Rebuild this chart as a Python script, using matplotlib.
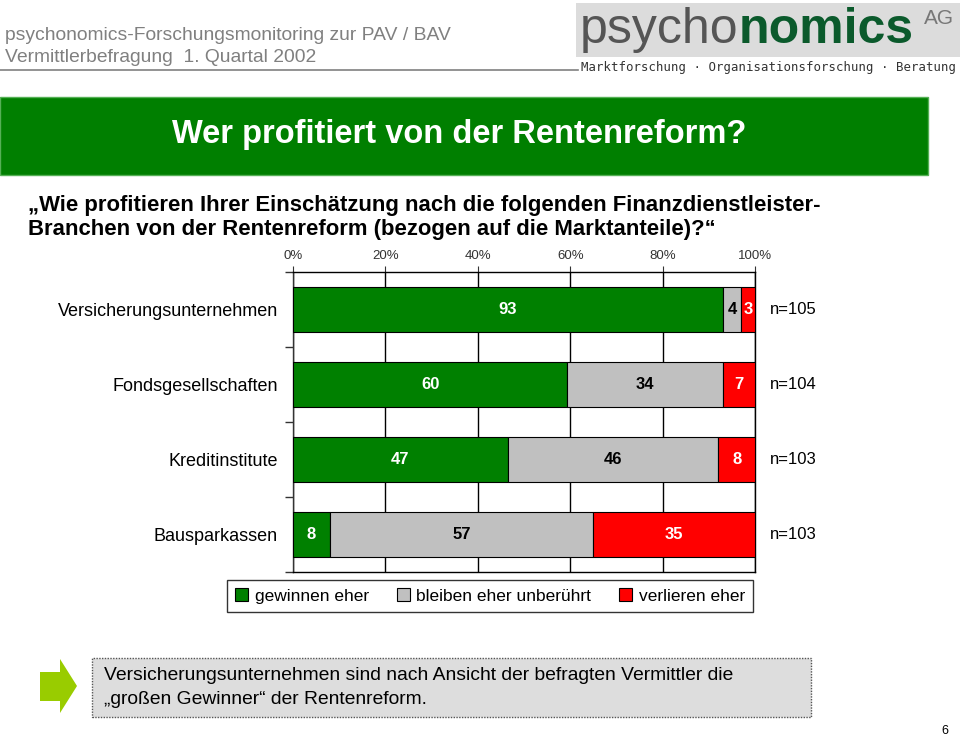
import matplotlib
matplotlib.use("Agg")
import matplotlib.pyplot as plt
from matplotlib.patches import Rectangle, Polygon
import numpy as np

# ---- data ----
categories = ["Versicherungsunternehmen", "Fondsgesellschaften", "Kreditinstitute", "Bausparkassen"]
gewinnen = [93, 60, 47, 8]
unberuehrt = [4, 34, 46, 57]
verlieren = [3, 7, 8, 35]
n_labels = ["n=105", "n=104", "n=103", "n=103"]
series_names = ["gewinnen eher", "bleiben eher unberührt", "verlieren eher"]
x_ticks = [0, 20, 40, 60, 80, 100]
x_ticklabels = ["0%", "20%", "40%", "60%", "80%", "100%"]

title = "Wer profitiert von der Rentenreform?"
question = ["\u201eWie profitieren Ihrer Einschätzung nach die folgenden Finanzdienstleister-",
            "Branchen von der Rentenreform (bezogen auf die Marktanteile)?\u201c"]
header = ["psychonomics-Forschungsmonitoring zur PAV / BAV",
          "Vermittlerbefragung  1. Quartal 2002"]
conclusion = ["Versicherungsunternehmen sind nach Ansicht der befragten Vermittler die",
              "\u201egroßen Gewinner\u201c der Rentenreform."]

colors = ["#008000", "#C0C0C0", "#FF0000"]
label_colors = ["white", "black", "white"]

plt.rcParams['font.family'] = ['Liberation Sans', 'DejaVu Sans']

W, H = 960, 738
fig = plt.figure(figsize=(W / 100, H / 100), dpi=100)
fig.patch.set_facecolor("white")


def fx(x):
    return x / W


def fy(y):
    return 1 - y / H


# ---- header ----
fig.text(fx(5), fy(35), header[0], fontsize=13.9, color="#808080", va="center", ha="left")
fig.text(fx(5), fy(58), header[1], fontsize=13.9, color="#808080", va="center", ha="left")
fig.add_artist(plt.Line2D([fx(0), fx(578)], [fy(70), fy(70)], color="#808080", lw=1.2))

# logo
fig.add_artist(Rectangle((fx(576), fy(57)), fx(960) - fx(576), fy(3) - fy(57),
                         facecolor="#DCDCDC", edgecolor="none"))
t_psy = fig.text(fx(580), fy(43), "psycho", fontsize=36, color="#555555",
                 va="baseline", ha="left")
fig.canvas.draw()
ext = t_psy.get_window_extent()
fig.text(ext.x1 / W, fy(43), "nomics", fontsize=36, fontweight="bold",
         color="#0B5A2C", va="baseline", ha="left")
fig.text(fx(924), fy(18), "AG", fontsize=15, color="#777777",
         va="center", ha="left")
fig.text(fx(581), fy(68), "Marktforschung · Organisationsforschung · Beratung",
         fontsize=8.9, family="DejaVu Sans Mono", color="#333333", va="center", ha="left")

# green title band
fig.add_artist(Rectangle((fx(0), fy(175)), fx(928), fy(97) - fy(175),
                         facecolor="#007F00", edgecolor="#55B055", lw=1))
fig.text(fx(459), fy(135), title, fontsize=23.5, fontweight="bold",
         color="white", ha="center", va="center")

# question
fig.text(fx(28), fy(205), question[0], fontsize=15.9, fontweight="bold",
         color="black", ha="left", va="center")
fig.text(fx(28), fy(230), question[1], fontsize=15.9, fontweight="bold",
         color="black", ha="left", va="center")

# ---- chart ----
ax = fig.add_axes([fx(293), fy(572), fx(755) - fx(293), fy(272) - fy(572)])
totals = np.array(gewinnen) + np.array(unberuehrt) + np.array(verlieren)
series = [np.array(gewinnen), np.array(unberuehrt), np.array(verlieren)]
y = np.arange(len(categories))
left = np.zeros(len(categories))
handles = []
for s, vals in enumerate(series):
    pct = vals / totals * 100
    bars = ax.barh(y, pct, left=left, height=0.6, color=colors[s], edgecolor="black",
                   linewidth=0.8, zorder=3, label=series_names[s])
    handles.append(bars)
    for i, (v, p) in enumerate(zip(vals, pct)):
        ax.text(left[i] + p / 2, y[i], str(v), ha="center", va="center", fontsize=12,
                fontweight="bold", color=label_colors[s], zorder=4)
    left = left + pct

for i, t in enumerate(n_labels):
    ax.annotate(t, xy=(100, y[i]), xytext=(11, 0), textcoords="offset points",
                ha="left", va="center", fontsize=12, color="black", annotation_clip=False)

ax.set_xlim(0, 100)
ax.set_ylim(len(categories) - 0.5, -0.5)
ax.xaxis.tick_top()
ax.set_xticks(x_ticks)
ax.set_xticklabels(x_ticklabels, fontsize=9.5, color="#333333")
ax.tick_params(axis="x", direction="out", length=4, width=0.8, pad=3, colors="#333333",
               labelcolor="#333333")
ax.set_yticks(y)
ax.set_yticklabels(categories, fontsize=13)
ax.tick_params(axis="y", which="major", length=0, pad=11)
ax.set_yticks(np.arange(-0.5, len(categories), 1.0), minor=True)
ax.tick_params(axis="y", which="minor", length=6, width=1, color="#333333", direction="out")
ax.grid(axis="x", color="black", lw=1, zorder=1)
for sp in ax.spines.values():
    sp.set_color("black")
    sp.set_linewidth(1)
ax.spines["left"].set_color("#333333")

# legend
leg = fig.legend(handles=handles, labels=series_names, loc="center",
                 bbox_to_anchor=(fx(490), fy(596)), ncol=3, frameon=True, fancybox=False,
                 edgecolor="black", fontsize=12.5, handlelength=0.75, handleheight=0.75,
                 handletextpad=0.4, columnspacing=1.6, borderpad=0.45, borderaxespad=0)
leg.get_frame().set_linewidth(1)

# ---- bottom conclusion ----
fig.add_artist(Polygon([(fx(40), fy(672)), (fx(60), fy(672)), (fx(60), fy(659)),
                        (fx(77), fy(686)), (fx(60), fy(713)), (fx(60), fy(701)),
                        (fx(40), fy(701))], closed=True, facecolor="#99CC00",
                       edgecolor="none"))
fig.add_artist(Rectangle((fx(92), fy(717)), fx(811) - fx(92), fy(658) - fy(717),
                         facecolor="#DDDDDD", edgecolor="#555555", lw=1, linestyle=(0, (1, 1))))
fig.text(fx(104), fy(676), conclusion[0], fontsize=13.9, color="black", ha="left", va="center")
fig.text(fx(104), fy(699), conclusion[1], fontsize=13.9, color="black", ha="left", va="center")

fig.text(fx(945), fy(731), "6", fontsize=9, color="black", ha="center", va="center")

fig.savefig("out.png", dpi=100)
